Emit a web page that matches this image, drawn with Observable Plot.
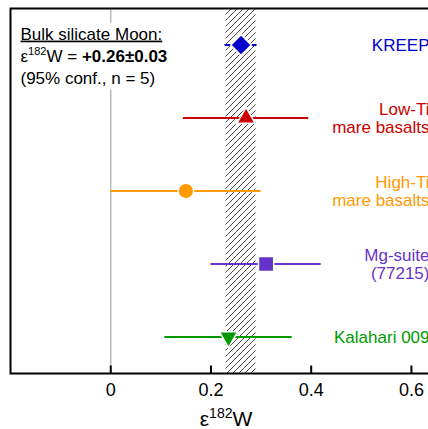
<!DOCTYPE html>
<html><head><meta charset="utf-8">
<script src="https://cdn.jsdelivr.net/npm/d3@7"></script>
<script src="https://cdn.jsdelivr.net/npm/@observablehq/plot@0.6"></script>
<style>
body{margin:0;background:#fff}
#chart svg{font-family:"Liberation Sans",Arial,Helvetica,sans-serif}
</style>
</head><body><div id="chart"></div>
<script>
// ---- data ----
const groups = ["KREEP", "Low-Ti\nmare basalts", "High-Ti\nmare basalts", "Mg-suite\n(77215)", "Kalahari 009"];
const values = [0.26, 0.27, 0.15, 0.31, 0.235];
const lower  = [0.228, 0.145, 0.0, 0.20, 0.108];
const upper  = [0.292, 0.395, 0.30, 0.42, 0.362];
const bsmMean = 0.26;
const bsmErr = 0.03;
const xTicks = [0, 0.2, 0.4, 0.6];
const xDomain = [-0.2, 0.66];
const annoLines = ["Bulk silicate Moon:", "ε182W = +0.26±0.03", "(95% conf., n = 5)"];
const xTitle = "ε182W";

// ---- styles / layout (not data) ----
const W = 428, H = 429, mTop = 8, mBottom = 56;
const tickLen = 8;
const colors = ["#0000cc", "#cc0000", "#ff9900", "#6633cc", "#009900"];
const markerStyle = [
  {symbol: "diamond2", r: 9.2, rotate: 0},
  {symbol: "triangle", r: 6.8, rotate: 0},
  {symbol: "circle", r: 7.8, rotate: 0},
  {symbol: "square", r: 8.6, rotate: 0},
  {symbol: "triangle", r: 6.8, rotate: 180}
];

// rows are stacked top to bottom: row index n-1 … 0 on a linear y scale
const n = groups.length;
const rows = groups.map((g, i) => ({group: g, row: n - i, value: values[i], lo: lower[i], hi: upper[i]}));
const band = [{lo: bsmMean - bsmErr, hi: bsmMean + bsmErr}];
const yDomain = [0.5, n + 0.5];
const rowPx = (H - mTop - mBottom) / n;
const tickRows = xTicks.map(t => ({t, y1: yDomain[0], y2: yDomain[0] + tickLen / rowPx}));

const svg = Plot.plot({
  width: W, height: H,
  marginLeft: 10, marginTop: mTop, marginBottom: mBottom, marginRight: -13,
  style: {background: "white", fontFamily: '"Liberation Sans",Arial,sans-serif'},
  x: {domain: xDomain},
  y: {domain: yDomain, axis: null},
  color: {type: "ordinal", domain: groups, range: colors},
  marks: [
    Plot.ruleX([0], {stroke: "#bbbbbb", strokeWidth: 1.5}),
    Plot.rect(band, {x1: "lo", x2: "hi", fill: "url(#hatch)"}),
    Plot.ruleY(rows, {y: "row", x1: "lo", x2: "hi", stroke: "group", strokeWidth: 2}),
    ...rows.map((d, i) => Plot.dot([d], {
      x: "value", y: "row", fill: "group",
      symbol: markerStyle[i].symbol, r: markerStyle[i].r, rotate: markerStyle[i].rotate,
      stroke: "white", strokeWidth: 1.5
    })),
    Plot.text(rows, {y: "row", text: "group", fill: "group", frameAnchor: "right", dx: -12,
      textAnchor: "end", fontSize: 17, lineHeight: 1.05}),
    Plot.text([annoLines[0]], {text: d => d, frameAnchor: "top-left", dx: 10, dy: 19, textAnchor: "start",
      fontSize: 17, className: "anno anno1"}),
    Plot.text([annoLines[1]], {text: d => d, frameAnchor: "top-left", dx: 10, dy: 41, textAnchor: "start",
      fontSize: 17, className: "anno anno2"}),
    Plot.text([annoLines[2]], {text: d => d, frameAnchor: "top-left", dx: 10, dy: 63, textAnchor: "start",
      fontSize: 17, className: "anno anno3"}),
    Plot.frame({stroke: "black", strokeWidth: 2}),
    Plot.link(tickRows, {x1: "t", x2: "t", y1: "y1", y2: "y2", stroke: "black", strokeWidth: 2}),
    Plot.axisX({ticks: xTicks, tickSize: 0, tickPadding: 10, fontSize: 18, label: null,
      tickFormat: d => d === 0 ? "0" : d3.format(".1f")(d)}),
    Plot.text([xTitle], {text: d => d, frameAnchor: "bottom", dy: 52, fontSize: 21, className: "xtitle"})
  ]
});

document.getElementById("chart").appendChild(svg);

const s = d3.select(svg);
// hatch pattern
const defs = s.insert("defs", ":first-child");
const pat = defs.append("pattern").attr("id", "hatch").attr("patternUnits", "userSpaceOnUse")
  .attr("width", 6).attr("height", 6);
pat.append("rect").attr("width", 6).attr("height", 6).attr("fill", "white");
pat.append("path").attr("d", "M-1,1 L1,-1 M0,6 L6,0 M5,7 L7,5")
  .attr("stroke", "#000").attr("stroke-width", 0.7);

// underline
s.select(".anno1 text").attr("text-decoration", "underline");
// superscript + bold
{
  const t = s.select(".anno2 text");
  t.text(null);
  t.append("tspan").text("ε");
  t.append("tspan").attr("dy", -7).attr("font-size", 11).text("182");
  t.append("tspan").attr("dy", 7).text("W = ");
  t.append("tspan").attr("font-weight", "bold").text("+0.26±0.03");
}
{
  const t = s.select(".xtitle text");
  t.text(null);
  t.append("tspan").text("ε");
  t.append("tspan").attr("dy", -8).attr("font-size", 14).text("182");
  t.append("tspan").attr("dy", 8).text("W");
}
// white box behind annotation, sized from the rendered text itself
{
  const nodes = s.selectAll(".anno").nodes();
  const sb = svg.getBoundingClientRect();
  let x0 = Infinity, y0 = Infinity, x1 = -Infinity, y1 = -Infinity;
  nodes.forEach(nd => { const b = nd.getBoundingClientRect();
    x0 = Math.min(x0, b.left - sb.left); y0 = Math.min(y0, b.top - sb.top);
    x1 = Math.max(x1, b.right - sb.left); y1 = Math.max(y1, b.bottom - sb.top); });
  const pad = 2;
  const r = document.createElementNS("http://www.w3.org/2000/svg", "rect");
  r.setAttribute("x", x0 - pad); r.setAttribute("y", y0 - pad);
  r.setAttribute("width", x1 - x0 + 2 * pad); r.setAttribute("height", y1 - y0 + 2 * pad);
  r.setAttribute("fill", "white");
  nodes[0].parentNode.insertBefore(r, nodes[0]);
}
</script>
</body></html>
